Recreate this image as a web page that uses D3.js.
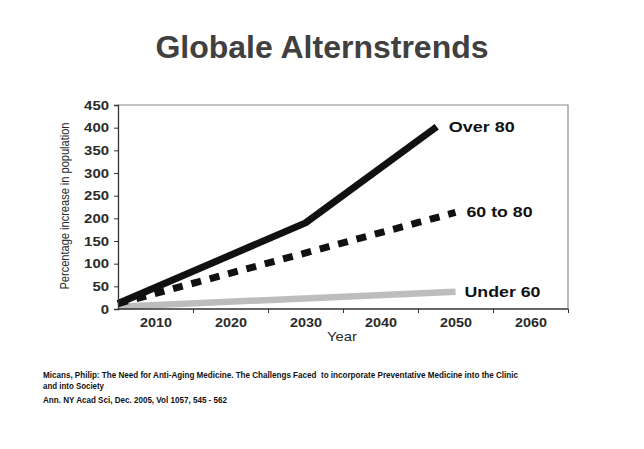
<!DOCTYPE html>
<html><head><meta charset="utf-8">
<script src="https://cdn.jsdelivr.net/npm/d3@7"></script>
<style>body{margin:0;background:#fff}svg{display:block}</style>
</head><body>
<svg id="c" width="644" height="449"></svg>
<script>
const title = "Globale Alternstrends";
const yLabel = "Percentage increase in population";
const xLabel = "Year";
const yTicks = [0,50,100,150,200,250,300,350,400,450];
const xLabelYears = [2010,2020,2030,2040,2050,2060];
const xTickYears = [2015,2025,2035,2045,2055,2065];
const over80Years = [2005, 2030, 2047.5];
const over80Values = [12, 190, 402];
const mid60Years = [2005, 2050];
const mid60Values = [12, 213];
const under60Years = [2005, 2050];
const under60Values = [5, 38];
const seriesNames = ["Over 80", "60 to 80", "Under 60"];
const citation = [
  "Micans, Philip: The Need for Anti-Aging Medicine. The Challengs Faced  to incorporate Preventative Medicine into the Clinic",
  "and into Society",
  "Ann. NY Acad Sci, Dec. 2005, Vol 1057, 545 - 562"
];

const svg = d3.select("#c");
const font = "Liberation Sans, Arial, Helvetica, sans-serif";
const L = 118, R = 568, T = 105, B = 309;
const x = d3.scaleLinear().domain([2005, 2065]).range([L, R]);
const y = d3.scaleLinear().domain([0, 450]).range([B, T]);

svg.append("text").attr("x", 322).attr("y", 58).attr("text-anchor","middle")
  .attr("font-family", font).attr("font-weight","bold").attr("font-size", 32)
  .attr("fill","#404040").text(title);

// frame top/right
svg.append("path").attr("d", `M${L},${T}H${R}V${B}`).attr("fill","none")
  .attr("stroke","#8a8a8a").attr("stroke-width",1.2);

// lines
const line = d3.line().x(d=>x(d[0])).y(d=>y(d[1]));
const g = svg.append("g");
g.append("path").datum(under60Years.map((t,i)=>[t, under60Values[i]]))
  .attr("d", line).attr("fill","none").attr("stroke","#bdbdbd").attr("stroke-width",6.5);
g.append("path").datum(mid60Years.map((t,i)=>[t, mid60Values[i]]))
  .attr("d", line).attr("fill","none").attr("stroke","#111").attr("stroke-width",7)
  .attr("stroke-dasharray","10,9");
g.append("path").datum(over80Years.map((t,i)=>[t, over80Values[i]]))
  .attr("d", line).attr("fill","none").attr("stroke","#111").attr("stroke-width",7)
  .attr("stroke-linejoin","round");

// axes
const digitW = 8.3;
const yAxis = svg.append("g").attr("transform",`translate(${L},0)`)
  .call(d3.axisLeft(y).tickValues(yTicks).tickSize(4).tickPadding(5));
yAxis.select(".domain").attr("stroke","#333").attr("stroke-width",1.3);
yAxis.selectAll(".tick line").attr("stroke","#333");
yAxis.selectAll("text").attr("font-family",font).attr("font-size",13)
  .attr("font-weight","bold").attr("fill","#2a2a2a")
  .attr("textLength", d => String(d).length * digitW).attr("lengthAdjust","spacingAndGlyphs");

const xAxis = svg.append("g").attr("transform",`translate(0,${B})`)
  .call(d3.axisBottom(x).tickValues(xTickYears).tickSize(4).tickFormat(""));
xAxis.select(".domain").attr("stroke","#333").attr("stroke-width",1.3).attr("d",`M${L},0H${R}`);
xAxis.selectAll(".tick line").attr("stroke","#333");

const xLab = svg.append("g").attr("transform",`translate(0,${B})`)
  .call(d3.axisBottom(x).tickValues(xLabelYears).tickSize(0).tickPadding(9).tickFormat(d3.format("d")));
xLab.select(".domain").remove();
xLab.selectAll("text").attr("font-family",font).attr("font-size",13)
  .attr("font-weight","bold").attr("fill","#2a2a2a")
  .attr("textLength", 32).attr("lengthAdjust","spacingAndGlyphs");

svg.append("text").attr("x",342).attr("y",341).attr("text-anchor","middle")
  .attr("font-family",font).attr("font-size",13.5).attr("fill","#2a2a2a")
  .attr("textLength",30).attr("lengthAdjust","spacingAndGlyphs").text(xLabel);

svg.append("text").attr("transform","translate(69,206) rotate(-90)").attr("text-anchor","middle")
  .attr("font-family",font).attr("font-size",12).attr("fill","#2a2a2a")
  .attr("textLength",167).attr("lengthAdjust","spacingAndGlyphs").text(yLabel);

// series labels
const labPos = [[over80Years[2], over80Values[2]], [mid60Years[1], mid60Values[1]], [under60Years[1], under60Values[1]]];
const labDx = [12, 11, 9];
const labW = [66, 66, 76];
seriesNames.forEach((n,i)=>{
  svg.append("text").attr("x", x(labPos[i][0]) + labDx[i]).attr("y", y(labPos[i][1]) + 5)
    .attr("font-family",font).attr("font-weight","bold").attr("font-size",15.5)
    .attr("fill","#111").attr("textLength",labW[i]).attr("lengthAdjust","spacingAndGlyphs").text(n);
});

// citation
const citeY = [378, 388.5, 402.5];
const citeW = [475, 61, 184];
citation.forEach((c,i)=>{
  svg.append("text").attr("x",43).attr("y",citeY[i])
    .attr("font-family",font).attr("font-weight","bold").attr("font-size",9.5)
    .attr("fill","#111").attr("textLength",citeW[i]).attr("lengthAdjust","spacingAndGlyphs")
    .attr("xml:space","preserve").text(c);
});
</script>
</body></html>
